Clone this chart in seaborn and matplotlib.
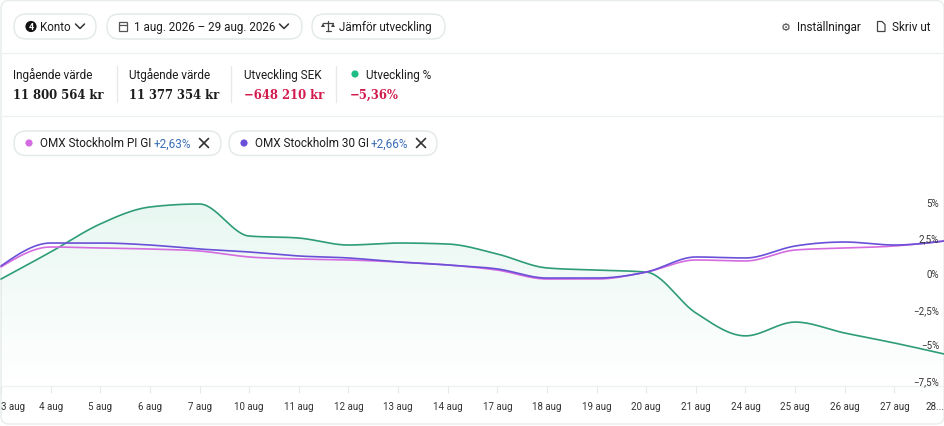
import numpy as np
import pandas as pd
import matplotlib
matplotlib.use("Agg")
import matplotlib.pyplot as plt
import matplotlib.transforms as mtransforms
from matplotlib.patches import FancyBboxPatch, Circle, Polygon, Rectangle
import seaborn as sns

sns.set_theme(style="white")
plt.rcParams["font.family"] = ["Roboto", "DejaVu Sans"]

# ── DATA ─────────────────────────────────────────────────────
dates = ["3 aug", "4 aug", "5 aug", "6 aug", "7 aug", "10 aug", "11 aug",
         "12 aug", "13 aug", "14 aug", "17 aug", "18 aug", "19 aug", "20 aug",
         "21 aug", "24 aug", "25 aug", "26 aug", "27 aug", "28 aug"]
tick_labels = dates[:-1] + ["28..."]

konto = [-0.34, 1.56, 3.53, 4.72, 4.93, 2.68, 2.54, 2.05, 2.19, 2.12,
         1.42, 0.44, 0.29, 0.15, -2.72, -4.33, -3.36, -4.13, -4.83, -5.60]
omx_30 = [0.58, 2.19, 2.19, 2.05, 1.77, 1.56, 1.28, 1.14, 0.86, 0.65,
          0.37, -0.27, -0.27, 0.15, 1.21, 1.14, 1.98, 2.26, 2.05, 2.33]
omx_pi = [0.51, 1.91, 1.84, 1.77, 1.63, 1.21, 1.07, 1.00, 0.86, 0.65,
          0.29, -0.34, -0.34, 0.15, 1.00, 0.93, 1.70, 1.84, 1.98, 2.33]

yticks = [5, 2.5, 0, -2.5, -5, -7.5]
ytick_labels = ["5%", "2,5%", "0%", "\u22122,5%", "\u22125%", "\u22127,5%"]

GREEN = "#2e9c77"
PURPLE = "#6a50d8"
PINK = "#d56be0"
RED = "#d21a4c"
BLUE = "#3a6db5"
TXT = "#1c1c1c"
LINE = "#e8ecec"


# monotone cubic (like d3 curveMonotoneX) just for drawing the smooth curve
def smooth(y, n=30):
    y = np.asarray(y, float)
    x = np.arange(len(y), dtype=float)
    s = np.diff(y)
    t = np.zeros(len(y))
    for i in range(1, len(y) - 1):
        p = (s[i - 1] + s[i]) / 2
        t[i] = (np.sign(s[i - 1]) + np.sign(s[i])) * min(abs(s[i - 1]), abs(s[i]), 0.5 * abs(p))
    t[0] = (3 * s[0] - t[1]) / 2
    t[-1] = (3 * s[-1] - t[-2]) / 2
    xs, ys = [], []
    u = np.linspace(0, 1, n, endpoint=False)
    for i in range(len(y) - 1):
        h00 = 2 * u**3 - 3 * u**2 + 1
        h10 = u**3 - 2 * u**2 + u
        h01 = -2 * u**3 + 3 * u**2
        h11 = u**3 - u**2
        xs.append(x[i] + u)
        ys.append(h00 * y[i] + h10 * t[i] + h01 * y[i + 1] + h11 * t[i + 1])
    xs.append([x[-1]])
    ys.append([y[-1]])
    return np.concatenate(xs), np.concatenate(ys)


fig = plt.figure(figsize=(9.45, 4.27), dpi=100)

# ── BACKGROUND / HEADER (pixel coordinates) ─────────────────
bg = fig.add_axes([0, 0, 1, 1], zorder=0)
bg.set_xlim(0, 945)
bg.set_ylim(427, 0)
bg.axis("off")

bg.add_patch(FancyBboxPatch((1, 1.5), 943, 423.5, boxstyle="round,pad=0,rounding_size=8",
                            fc="white", ec=LINE, lw=1))
for yy in (54, 117):
    bg.plot([1.5, 943.5], [yy, yy], color="#edf0f0", lw=1)


def pill(x0, x1, y0, y1):
    bg.add_patch(FancyBboxPatch((x0, y0), x1 - x0, y1 - y0,
                                boxstyle=f"round,pad=0,rounding_size={(y1 - y0) / 2}",
                                fc="white", ec="#e3e8e8", lw=1))


def chevron(x, y):
    bg.plot([x - 4.5, x, x + 4.5], [y - 2.5, y + 2, y - 2.5], color="#333", lw=1.1,
            solid_capstyle="round")


pill(14, 96, 15, 40)
bg.add_patch(Circle((31, 27.5), 6.3, fc="#111"))
bg.text(31, 27.8, "4", color="white", fontsize=6.5, fontweight="bold", ha="center", va="center")
bg.text(40, 27.5, "Konto", fontsize=8.4, color=TXT, va="center")
chevron(80, 27.5)

pill(107, 302, 15, 40)
bg.add_patch(Rectangle((118.5, 23), 8, 9, fc="none", ec="#555", lw=0.9))
bg.plot([118.5, 126.5], [25.5, 25.5], color="#555", lw=0.9)
bg.text(134, 27.5, "1 aug. 2026 \u2013 29 aug. 2026", fontsize=8.4, color=TXT, va="center")
chevron(284, 27.5)

pill(312, 445, 15, 40)
bg.plot([328, 328], [22, 32], color="#444", lw=0.9)
bg.plot([323, 333], [23.5, 23.5], color="#444", lw=0.9)
bg.plot([325.5, 330.5], [32, 32], color="#444", lw=0.9)
bg.add_patch(Polygon([[321, 28], [325, 28], [323, 24]], closed=True, fc="#444", ec="none"))
bg.add_patch(Polygon([[331, 28], [335, 28], [333, 24]], closed=True, fc="#444", ec="none"))
bg.text(339, 27.5, "J\u00e4mf\u00f6r utveckling", fontsize=8.4, color=TXT, va="center")

bg.text(785.5, 28, "\u2699", fontsize=8, color="#444", ha="center", va="center",
        family=["DejaVu Sans"])
bg.text(797, 27.5, "Inst\u00e4llningar", fontsize=8.5, color=TXT, va="center")
bg.add_patch(Polygon([[877.5, 22.5], [882, 22.5], [885, 25.5], [885, 32.5], [877.5, 32.5]],
                     closed=True, fc="none", ec="#444", lw=0.9))
bg.text(892, 27.5, "Skriv ut", fontsize=8.5, color=TXT, va="center")

# stats row
stat_x = [13, 129, 244, 350]
stat_labels = ["Ing\u00e5ende v\u00e4rde", "Utg\u00e5ende v\u00e4rde", "Utveckling SEK", "Utveckling %"]
stat_values = ["11 800 564 kr", "11 377 354 kr", "\u2212648 210 kr", "\u22125,36%"]
stat_colors = [TXT, TXT, RED, RED]
for i, (xx, lab, val, col) in enumerate(zip(stat_x, stat_labels, stat_values, stat_colors)):
    lx = xx + 16 if i == 3 else xx
    bg.text(lx, 75, lab, fontsize=8.5, color=TXT, va="center")
    bg.text(xx, 95.5, val, fontsize=9.3, color=col, va="center", fontweight="bold",
            family=["DejaVu Serif"], stretch="condensed")
bg.add_patch(Circle((355, 75), 4.3, fc="#1fbe87"))
for xx in (117, 231, 336):
    bg.plot([xx, xx], [67, 103], color="#e6eaea", lw=1)

# benchmark pills
bench = [(14, 221, PINK, "OMX Stockholm PI GI", "+2,63%", 154, 204),
         (229, 437, PURPLE, "OMX Stockholm 30 GI", "+2,66%", 371, 421)]
for x0, x1, col, name, chg, cx, xx in bench:
    pill(x0, x1, 132, 156.5)
    bg.add_patch(Circle((x0 + 15, 144), 4.3, fc=col))
    bg.text(x0 + 26, 144, name, fontsize=8.5, color=TXT, va="center")
    bg.text(cx, 144, chg, fontsize=8.5, color=BLUE, va="center")
    bg.plot([xx - 4.5, xx + 4.5], [139.5, 148.5], color="#333", lw=1.2)
    bg.plot([xx - 4.5, xx + 4.5], [148.5, 139.5], color="#333", lw=1.2)

# ── CHART ────────────────────────────────────────────────────
px_top, px_bot = 160, 387
ax = fig.add_axes([0, 1 - px_bot / 427, 1, (px_bot - px_top) / 427], zorder=1)
ax.patch.set_alpha(0)
b = (944 - 1) / 19
ax.set_xlim(-1 / b, (945 - 1) / b)
ymin = -7.85
ax.set_ylim(ymin, 8.09)

gx, gy = smooth(konto)
# gradient area under the portfolio line
top = gy.max()
alpha = np.linspace(0.11, 0.0, 256)
rgba = np.zeros((256, 1, 4))
rgba[..., 0] = 0x2e / 255
rgba[..., 1] = 0xb8 / 255
rgba[..., 2] = 0x80 / 255
rgba[:, 0, 3] = alpha
im = ax.imshow(rgba, extent=[0, 19, ymin, top], aspect="auto", origin="upper", zorder=1)
poly = Polygon(np.column_stack([np.r_[gx, gx[-1], gx[0]], np.r_[gy, ymin, ymin]]),
               closed=True, fc="none", ec="none")
ax.add_patch(poly)
im.set_clip_path(poly)

curves = []
for name, vals in [("konto", konto), ("pi", omx_pi), ("omx30", omx_30)]:
    sx, sy = smooth(vals)
    curves.append(pd.DataFrame({"x": sx, "y": sy, "serie": name}))
curves = pd.concat(curves, ignore_index=True)
sns.lineplot(data=curves, x="x", y="y", hue="serie", sort=False, estimator=None,
             palette={"konto": GREEN, "pi": PINK, "omx30": PURPLE},
             linewidth=1.2, legend=False, ax=ax, zorder=3)

ax.set_xticks(range(len(dates)))
ax.set_xticklabels(tick_labels, fontsize=7, color="#333")
labs = ax.get_xticklabels()
labs[0].set_ha("left")
labs[-1].set_ha("right")
ax.tick_params(axis="x", direction="out", length=5, width=0.8, color="#e4e8e8", pad=6,
               bottom=True)
ax.set_yticks([])
ax.set_xlabel("")
ax.set_ylabel("")
for s in ("top", "left", "right"):
    ax.spines[s].set_visible(False)
ax.spines["bottom"].set_color("#eef1f1")
ax.spines["bottom"].set_linewidth(1)

trans = mtransforms.blended_transform_factory(ax.transAxes, ax.transData)
for v, lab in zip(yticks, ytick_labels):
    ax.text(939 / 945, v, lab, transform=trans, ha="right", va="center",
            fontsize=7, color="#333", zorder=4)

fig.savefig("out.png", dpi=100)
